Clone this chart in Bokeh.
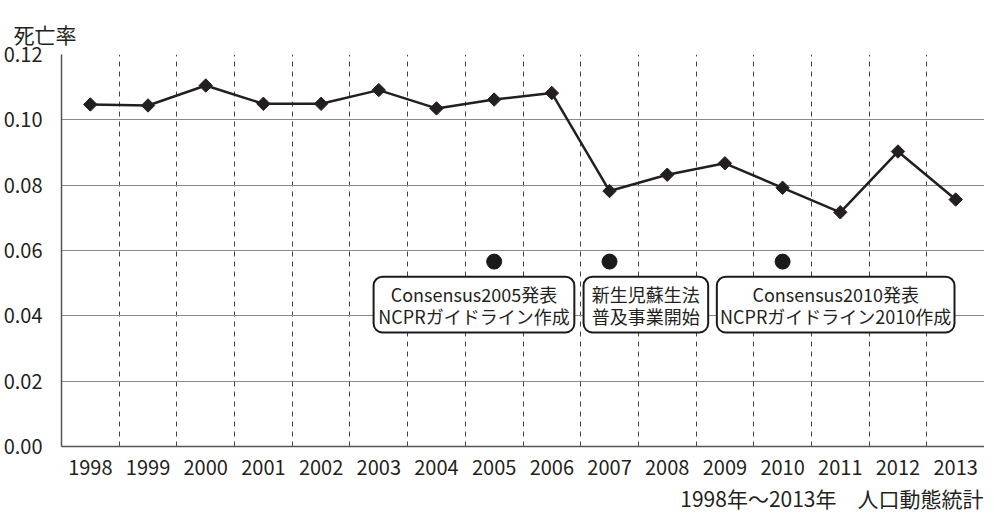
from bokeh.plotting import figure
from bokeh.models import Range1d, FixedTicker, PrintfTickFormatter, Title, ColumnDataSource
from bokeh.core.properties import value
from bokeh.embed import file_html
from bokeh.resources import INLINE

# ---- data ----
years = ["1998", "1999", "2000", "2001", "2002", "2003", "2004", "2005",
         "2006", "2007", "2008", "2009", "2010", "2011", "2012", "2013"]
rate = [0.1047, 0.1044, 0.1105, 0.1049, 0.1049, 0.1091, 0.1035, 0.1062,
        0.1082, 0.0782, 0.0832, 0.0867, 0.0792, 0.0717, 0.0903, 0.0756]
event_years = ["2005", "2007", "2010"]
event_marker_level = 0.0566
event_texts = ["Consensus2005発表\nNCPRガイドライン作成",
               "新生児蘇生法\n普及事業開始",
               "Consensus2010発表\nNCPRガイドライン2010作成"]
y_ticks = [0.0, 0.02, 0.04, 0.06, 0.08, 0.10, 0.12]
y_label = "死亡率"
footnote = "1998年～2013年　人口動態統計"

# ---- layout constants (annotation boxes, in axis units) ----
box_left = [5.41, 9.05, 11.36]
box_right = [8.89, 11.21, 15.48]
box_top = 0.0520
box_bottom = 0.0349

FONT = "Noto Sans CJK JP"
TXT = "#231f20"

xs = [i + 0.5 for i in range(len(years))]
pos = {y: i + 0.5 for i, y in enumerate(years)}

p = figure(width=984, height=516, output_backend="svg", toolbar_location=None,
           x_range=Range1d(0, len(years)), y_range=Range1d(0, 0.12),
           min_border_left=52, min_border_right=0, min_border_top=54,
           min_border_bottom=70)
p.outline_line_color = None
p.background_fill_color = "white"

# titles used as free text (y label top-left, footnote bottom-right)
p.add_layout(Title(text=footnote, align="right", text_font=FONT,
                   text_font_size="21px", text_font_style="normal",
                   text_color=TXT, standoff=7, offset=1), "below")
p.title.text = y_label
p.title.align = "left"
p.title.offset = -48
p.title.text_font = FONT
p.title.text_font_size = "21px"
p.title.text_font_style = "normal"
p.title.text_color = TXT
p.title.text_line_height = 0.5
p.title.standoff = 12

# axes
p.xaxis.ticker = FixedTicker(ticks=xs)
p.xaxis.major_label_overrides = {x: y for x, y in zip(xs, years)}
p.yaxis.ticker = FixedTicker(ticks=y_ticks)
p.yaxis.formatter = PrintfTickFormatter(format="%.2f")
for ax in (p.xaxis, p.yaxis):
    ax.major_tick_line_color = None
    ax.minor_tick_line_color = None
    ax.axis_line_color = "#555555"
    ax.axis_line_width = 1.5
    ax.major_label_text_font = FONT
    ax.major_label_text_font_size = "20px"
    ax.major_label_text_color = TXT
p.xaxis.major_label_standoff = 7
p.yaxis.major_label_standoff = 13

# grids
p.ygrid.ticker = FixedTicker(ticks=y_ticks)
p.ygrid.grid_line_color = "#8a8a8a"
p.ygrid.grid_line_width = 1.2
p.xgrid.ticker = FixedTicker(ticks=list(range(1, len(years))))
p.xgrid.grid_line_color = "#444444"
p.xgrid.grid_line_width = 1
p.xgrid.grid_line_dash = "5 5"

# series
p.line(xs, rate, line_color=TXT, line_width=2.5)
p.scatter(xs, rate, marker="square", angle=0.785398, size=9.5,
          fill_color=TXT, line_color=TXT)

# event markers
ev_x = [pos[y] for y in event_years]
p.scatter(ev_x, [event_marker_level] * len(ev_x), marker="circle", size=15,
          fill_color="#1a1a1a", line_color="#1a1a1a")

# annotation boxes
p.quad(left=box_left, right=box_right, top=box_top, bottom=box_bottom,
       fill_color="white", line_color="#1a1a1a", line_width=2, border_radius=9)
src = ColumnDataSource(dict(
    x=[(l + r) / 2 for l, r in zip(box_left, box_right)],
    y=[(box_top + box_bottom) / 2] * 3,
    t=event_texts))
p.text(x="x", y="y", text="t", source=src, text_align="center",
       text_baseline="middle", text_font=value(FONT), text_font_size="18px",
       text_color=TXT, text_line_height=0.85)

open("out.html", "w").write(file_html(p, INLINE))
